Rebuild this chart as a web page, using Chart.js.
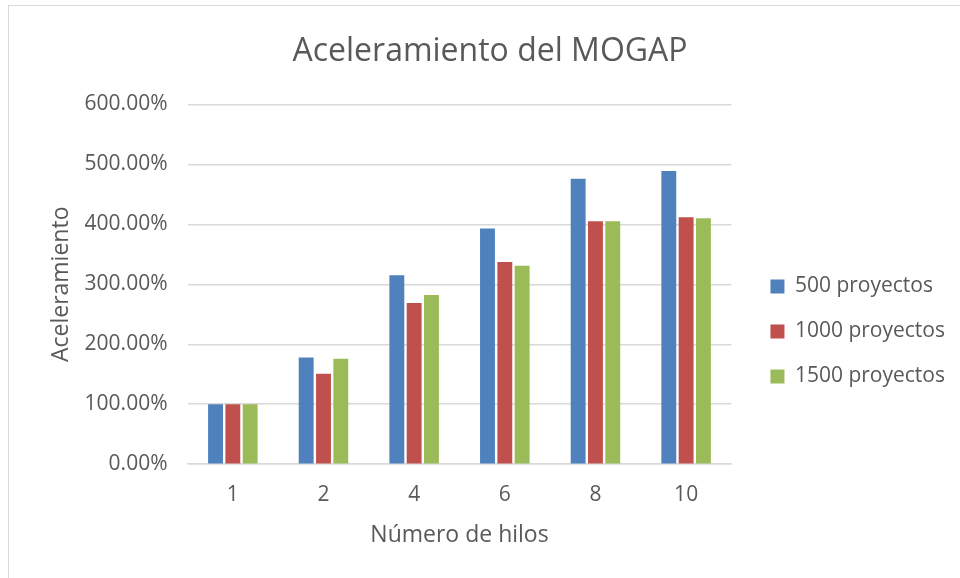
<!DOCTYPE html>
<html>
<head>
<meta charset="utf-8">
<script src="https://cdn.jsdelivr.net/npm/chart.js@4/dist/chart.umd.min.js"></script>
<style>
  html, body { margin: 0; padding: 0; background: #fff; }
  #frame {
    position: absolute; left: 8px; top: 5px; width: 960px; height: 580px;
    border: 1px solid #d9d9d9; box-sizing: border-box;
  }
  #wrap { position: absolute; left: 0; top: 0; width: 960px; height: 578px; }
</style>
</head>
<body>
<div id="frame"></div>
<div id="wrap"><canvas id="chart" width="960" height="578"></canvas></div>
<script>
// threads on the x axis
const hilos = ['1', '2', '4', '6', '8', '10'];

// speedup in percent
const p500 = [100, 178, 315, 393, 476, 489];
const p1000 = [100, 151, 269, 337, 405, 412];
const p1500 = [100, 176, 282, 331, 405, 410];

const seriesNames = ['500 proyectos', '1000 proyectos', '1500 proyectos'];
const colors = ['#4f81bd', '#c0504d', '#9bbb59'];

const font = '"Open Sans", "Noto Sans", sans-serif';
const grey = '#595959';

Chart.defaults.font.family = font;
Chart.defaults.color = grey;

// nudge the legend a little away from the plot
const legendShift = {
  id: 'legendShift',
  afterLayout(chart) {
    chart.legend.left += 15;
    chart.legend.right += 15;
  },
};

const ctx = document.getElementById('chart').getContext('2d');

new Chart(ctx, {
  type: 'bar',
  data: {
    labels: hilos,
    datasets: [p500, p1000, p1500].map((d, i) => ({
      label: seriesNames[i],
      data: d,
      backgroundColor: colors[i],
      categoryPercentage: 0.573,
      barPercentage: 0.86,
    })),
  },
  plugins: [legendShift],
  options: {
    responsive: false,
    animation: false,
    layout: { padding: { left: 40, right: 20, top: 18, bottom: 29 } },
    plugins: {
      title: {
        display: true,
        text: 'Aceleramiento del MOGAP',
        font: { size: 32, weight: 'normal' },
        color: grey,
        padding: { top: 15, bottom: 33 },
      },
      legend: {
        position: 'right',
        // empty title only pushes the items down a bit
        title: { display: true, text: '', font: { size: 10 }, padding: { top: 84, bottom: 0 } },
        labels: {
          boxWidth: 14,
          boxHeight: 14,
          padding: 24,
          font: { size: 21 },
          color: grey,
        },
      },
      tooltip: { enabled: false },
    },
    scales: {
      x: {
        grid: { display: false, drawTicks: false },
        border: { color: '#d9d9d9', width: 1.5 },
        ticks: { font: { size: 21 }, color: grey, padding: 18 },
        title: {
          display: true,
          text: 'Número de hilos',
          font: { size: 23 },
          color: grey,
          padding: { top: -4, bottom: 0 },
        },
      },
      y: {
        min: 0,
        max: 600,
        ticks: {
          stepSize: 100,
          font: { size: 21 },
          color: grey,
          padding: 20,
          callback: v => v.toFixed(2) + '%',
        },
        grid: { color: '#d9d9d9', lineWidth: 1.5, drawTicks: false },
        border: { display: false },
        title: {
          display: true,
          text: 'Aceleramiento',
          font: { size: 23 },
          color: grey,
          padding: { top: 8, bottom: -11 },
        },
      },
    },
  },
});
</script>
</body>
</html>
